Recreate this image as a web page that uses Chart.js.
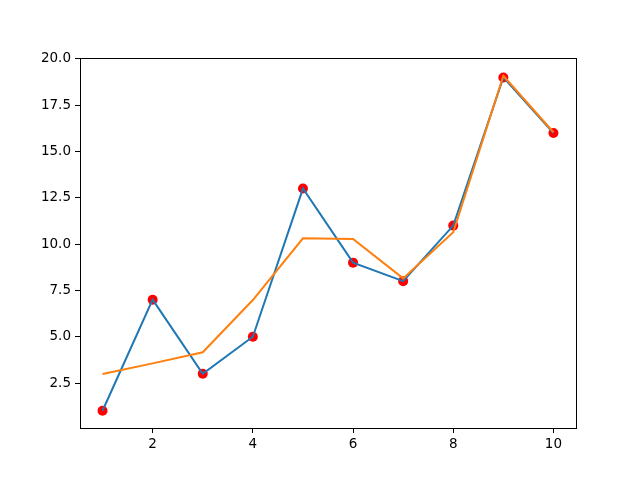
<!DOCTYPE html>
<html>
<head>
<meta charset="utf-8">
<script src="https://cdn.jsdelivr.net/npm/chart.js@4"></script>
<style>
  body { margin: 0; background: #fff; }
  canvas { display: block; }
</style>
</head>
<body>
<canvas id="chart" width="640" height="480"></canvas>
<script>
var xValues = [1, 2, 3, 4, 5, 6, 7, 8, 9, 10];
var yValues = [1, 7, 3, 5, 13, 9, 8, 11, 19, 16];
var smoothValues = [2.99, 3.56, 4.16, 6.98, 10.31, 10.28, 8.15, 10.64, 19.09, 16.04];
var xTicks = [2, 4, 6, 8, 10];
var yTicks = [2.5, 5, 7.5, 10, 12.5, 15, 17.5, 20];

function toPoints(ys) {
  return xValues.map(function (x, i) {
    return { x: x, y: ys[i] };
  });
}

// frame around the plot area, like matplotlib's spines
var framePlugin = {
  id: "frame",
  afterDraw: function (chart) {
    var a = chart.chartArea;
    var ctx = chart.ctx;
    ctx.save();
    ctx.strokeStyle = "#000";
    ctx.lineWidth = 1;
    ctx.strokeRect(Math.round(a.left) + 0.5, Math.round(a.top) + 0.5,
      Math.round(a.right - a.left), Math.round(a.bottom - a.top));
    ctx.restore();
  },
};

var font = { family: "DejaVu Sans", size: 13.5 };

new Chart(document.getElementById("chart").getContext("2d"), {
  type: "scatter",
  data: {
    datasets: [
      {
        data: toPoints(smoothValues),
        showLine: true,
        borderColor: "#ff7f0e",
        borderWidth: 2,
        pointRadius: 0,
        order: 0,
      },
      {
        data: toPoints(yValues),
        showLine: true,
        borderColor: "#1f77b4",
        borderWidth: 2,
        pointRadius: 0,
        order: 1,
      },
      {
        data: toPoints(yValues),
        showLine: false,
        backgroundColor: "#ff0000",
        pointBorderColor: "#ff0000",
        pointBorderWidth: 0,
        pointRadius: 5,
        order: 2,
      },
    ],
  },
  options: {
    responsive: false,
    animation: false,
    layout: { padding: { top: 58, right: 64, left: 0, bottom: 0 } },
    plugins: { legend: { display: false }, tooltip: { enabled: false } },
    scales: {
      x: {
        type: "linear",
        min: 0.55,
        max: 10.45,
        afterBuildTicks: function (scale) {
          scale.ticks = xTicks.map(function (v) { return { value: v }; });
        },
        afterFit: function (scale) { scale.height = 52; },
        grid: { drawOnChartArea: false, drawTicks: true, tickLength: 5, color: "#000" },
        border: { display: true, color: "#000" },
        ticks: { color: "#000", font: font, padding: 3, maxRotation: 0 },
      },
      y: {
        type: "linear",
        min: 0.07,
        max: 20.05,
        afterBuildTicks: function (scale) {
          scale.ticks = yTicks.map(function (v) { return { value: v }; });
        },
        afterFit: function (scale) { scale.width = 80; },
        grid: { drawOnChartArea: false, drawTicks: true, tickLength: 5, color: "#000" },
        border: { display: true, color: "#000" },
        ticks: {
          color: "#000",
          font: font,
          padding: 4,
          callback: function (v) { return v.toFixed(1); },
        },
      },
    },
  },
  plugins: [framePlugin],
});
</script>
</body>
</html>
